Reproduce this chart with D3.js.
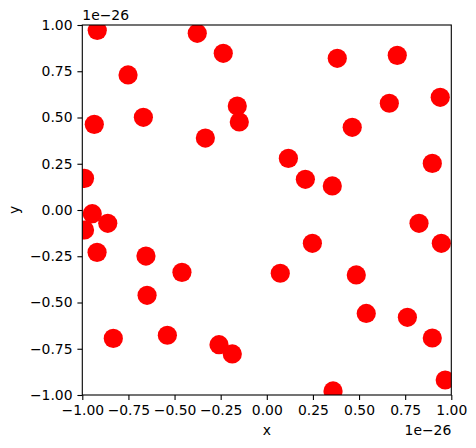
<!DOCTYPE html>
<html><head><meta charset="utf-8">
<script src="https://cdn.jsdelivr.net/npm/d3@7"></script>
<style>body{margin:0;background:#fff}svg text{font-family:"DejaVu Sans",sans-serif;}</style>
</head><body>
<script>
const xValues = [-0.919,-0.377,-0.236,-0.752,-0.935,-0.669,-0.333,-0.160,-0.149,-0.988,-0.946,
 -0.862,-0.988,-0.920,-0.655,-0.460,-0.649,-0.832,-0.539,-0.259,-0.187,
 0.382,0.707,0.664,0.940,0.463,0.117,0.209,0.355,0.897,
 0.825,0.946,0.247,0.073,0.485,0.539,0.762,0.897,0.967,0.359];
const yValues = [0.971,0.955,0.847,0.730,0.463,0.501,0.389,0.562,0.476,0.171,-0.020,
 -0.072,-0.108,-0.229,-0.249,-0.337,-0.461,-0.694,-0.677,-0.728,-0.778,
 0.820,0.836,0.577,0.609,0.447,0.279,0.166,0.130,0.252,
 -0.072,-0.180,-0.180,-0.342,-0.351,-0.559,-0.580,-0.692,-0.919,-0.978];
const tickValues = [-1,-0.75,-0.5,-0.25,0,0.25,0.5,0.75,1];
const tickLabels = ["\u22121.00","\u22120.75","\u22120.50","\u22120.25","0.00","0.25","0.50","0.75","1.00"];
const offsetLabel = "1e\u221226";

const W=476,H=448, L=82.3, R=451.3, T=25, B=395;
const svg=d3.select("body").append("svg").attr("width",W).attr("height",H);
const x=d3.scaleLinear().domain([-1,1]).range([L,R]);
const y=d3.scaleLinear().domain([-1,1]).range([B,T]);
const fs="13.9px";

svg.append("clipPath").attr("id","clip").append("rect").attr("x",L).attr("y",T).attr("width",R-L).attr("height",B-T);
svg.append("g").attr("clip-path","url(#clip)").selectAll("circle").data(xValues.map((v,i)=>[v,yValues[i]]))
 .join("circle").attr("cx",d=>x(d[0])).attr("cy",d=>y(d[1])).attr("r",9.6).attr("fill","#ff0000");

const fmt=(d)=>tickLabels[tickValues.indexOf(d)];
const xa=svg.append("g").attr("transform",`translate(0,${B})`).call(d3.axisBottom(x).tickValues(tickValues).tickFormat(fmt).tickSizeOuter(0).tickSize(4.9).tickPadding(4.9));
const ya=svg.append("g").attr("transform",`translate(${L},0)`).call(d3.axisLeft(y).tickValues(tickValues).tickFormat(fmt).tickSizeOuter(0).tickSize(4.9).tickPadding(4.9));
[xa,ya].forEach(a=>{a.select(".domain").remove();a.selectAll("text").attr("font-size",fs).attr("fill","#000").attr("font-family","DejaVu Sans");a.selectAll("line").attr("stroke","#000").attr("stroke-width",1.1);});

svg.append("rect").attr("x",L).attr("y",T).attr("width",R-L).attr("height",B-T).attr("fill","none").attr("stroke","#000").attr("stroke-width",1.1);

svg.append("text").attr("x",(L+R)/2).attr("y",435).attr("text-anchor","middle").attr("font-size",fs).text("x");
svg.append("text").attr("transform",`translate(19,${(T+B)/2}) rotate(-90)`).attr("text-anchor","middle").attr("font-size",fs).text("y");
svg.append("text").attr("x",L).attr("y",20).attr("font-size",fs).text(offsetLabel);
svg.append("text").attr("x",R).attr("y",435).attr("text-anchor","end").attr("font-size",fs).text(offsetLabel);
</script>
</body></html>
